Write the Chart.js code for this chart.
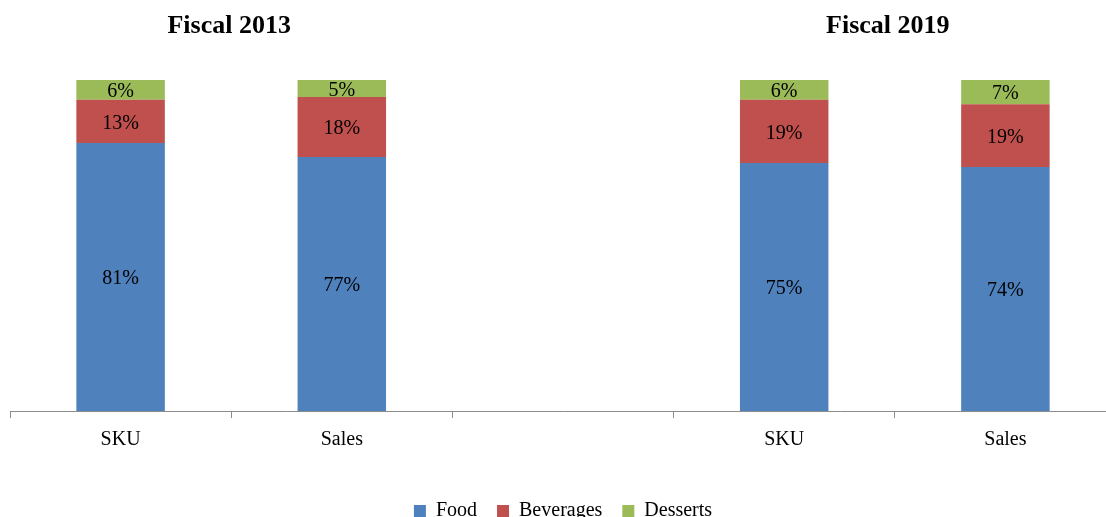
<!DOCTYPE html>
<html>
<head>
<meta charset="utf-8">
<script src="https://cdn.jsdelivr.net/npm/chart.js@4/dist/chart.umd.min.js"></script>
<style>
  html, body { margin: 0; padding: 0; background: #fff; overflow: hidden; }
  #wrap { width: 1116px; height: 531px; position: relative; }
</style>
</head>
<body>
<div id="wrap"><canvas id="mixChart"></canvas></div>
<script>
// categories (third slot is the gap between the two fiscal years)
const categories = ['SKU', 'Sales', '', 'SKU', 'Sales'];
const groupTitles = ['Fiscal 2013', 'Fiscal 2019'];

// share of total, %
const food = [81, 76.7, null, 74.9, 73.7];
const beverages = [13, 18.2, null, 19.1, 19];
const desserts = [6, 5.1, null, 6, 7.3];

const serif = '"Liberation Serif", "Times New Roman", serif';

// labels in the middle of each segment
const segmentLabels = {
    id: 'segmentLabels',
    afterDatasetsDraw(chart) {
        const ctx = chart.ctx;
        ctx.save();
        ctx.font = '20px ' + serif;
        ctx.fillStyle = '#000';
        ctx.textAlign = 'center';
        ctx.textBaseline = 'middle';
        chart.data.datasets.forEach(function(ds, i) {
            chart.getDatasetMeta(i).data.forEach(function(bar, j) {
                const v = ds.data[j];
                if (v == null) return;
                const mid = (bar.y + bar.base) / 2;
                ctx.fillText(Math.round(v) + '%', bar.x, mid + 2);
            });
        });
        ctx.restore();
    }
};

// "Fiscal ..." headings over each pair of bars
const groupHeadings = {
    id: 'groupHeadings',
    afterDraw(chart) {
        const ctx = chart.ctx;
        const x = chart.scales.x;
        ctx.save();
        ctx.font = 'bold 26px ' + serif;
        ctx.fillStyle = '#000';
        ctx.textAlign = 'center';
        ctx.textBaseline = 'middle';
        ctx.fillText(groupTitles[0], x.getPixelForValue(0.5) - 2, 26);
        ctx.fillText(groupTitles[1], x.getPixelForValue(3.5) - 7, 26);
        ctx.restore();
    }
};

new Chart(document.getElementById('mixChart'), {
    type: 'bar',
    data: {
        labels: categories,
        datasets: [
            { label: 'Food', data: food, backgroundColor: '#4F81BD' },
            { label: 'Beverages', data: beverages, backgroundColor: '#C0504D' },
            { label: 'Desserts', data: desserts, backgroundColor: '#9BBB59' }
        ]
    },
    options: {
        responsive: true,
        maintainAspectRatio: false,
        animation: false,
        barPercentage: 0.4,
        categoryPercentage: 1,
        layout: { padding: { left: 10, right: 0, top: 80, bottom: 0 } },
        plugins: {
            legend: {
                position: 'bottom',
                labels: {
                    font: { family: serif, size: 20 },
                    color: '#000',
                    boxWidth: 12,
                    boxHeight: 12,
                    padding: 20
                }
            },
            tooltip: { enabled: false }
        },
        scales: {
            x: {
                stacked: true,
                grid: {
                    drawOnChartArea: false,
                    color: '#8c8c8c',
                    tickLength: 7,
                    offset: true
                },
                border: { color: '#8c8c8c', width: 1 },
                ticks: {
                    font: { family: serif, size: 20 },
                    color: '#000',
                    padding: 10
                },
                afterFit: function(scale) {
                    scale.height += 19;
                }
            },
            y: {
                stacked: true,
                display: false,
                min: 0,
                max: 100
            }
        }
    },
    plugins: [segmentLabels, groupHeadings]
});
</script>
</body>
</html>
